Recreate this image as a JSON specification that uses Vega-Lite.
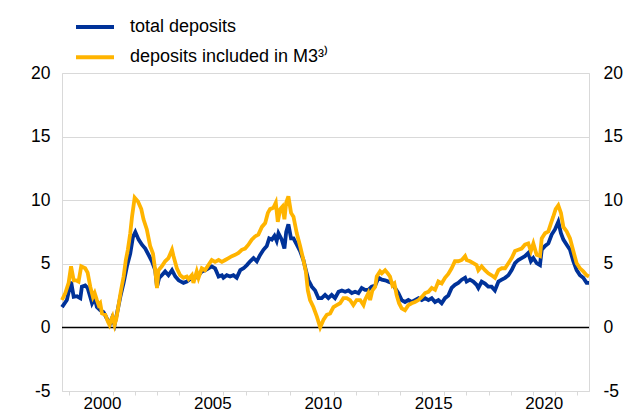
{
  "$schema": "https://vega.github.io/schema/vega-lite/v6.json",
  "width": 527,
  "height": 318,
  "autosize": {"type": "none"},
  "padding": {"left": 62, "top": 73, "right": 40, "bottom": 21},
  "background": "white",
  "config": {
    "font": "Liberation Sans",
    "view": {"stroke": "#d9d9d9", "strokeWidth": 1},
    "axis": {"labelColor": "#000000", "labelFontSize": 17.5, "title": null}
  },
  "datasets": {
    "total": [
      {"t":1998.69,"v":1.6},{"t":1998.91,"v":2.15},{"t":1999.1,"v":3.6},{"t":1999.22,"v":2.4},{"t":1999.37,"v":2.45},{"t":1999.52,"v":2.3},{"t":1999.59,"v":3.2},{"t":1999.74,"v":3.3},{"t":1999.85,"v":3.1},{"t":1999.97,"v":2.4},
      {"t":2000.05,"v":1.9},{"t":2000.17,"v":2.3},{"t":2000.27,"v":1.6},{"t":2000.42,"v":1.35},{"t":2000.57,"v":1.2},{"t":2000.72,"v":0.7},{"t":2000.87,"v":0.3},{"t":2000.95,"v":0.7},{"t":2001.07,"v":0.2},{"t":2001.18,"v":1.1},
      {"t":2001.33,"v":2.4},{"t":2001.48,"v":3.5},{"t":2001.63,"v":4.8},{"t":2001.78,"v":5.8},{"t":2001.9,"v":7.1},{"t":2002.01,"v":7.5},{"t":2002.16,"v":6.9},{"t":2002.31,"v":6.5},{"t":2002.46,"v":6.2},{"t":2002.61,"v":5.7},
      {"t":2002.76,"v":5.2},{"t":2002.91,"v":4.5},{"t":2002.99,"v":3.2},{"t":2003.09,"v":3.9},{"t":2003.21,"v":4.1},{"t":2003.36,"v":4.4},{"t":2003.51,"v":4.1},{"t":2003.67,"v":4.5},{"t":2003.82,"v":4.0},{"t":2003.97,"v":3.7},
      {"t":2004.19,"v":3.5},{"t":2004.34,"v":3.6},{"t":2004.57,"v":3.9},{"t":2004.72,"v":3.9},{"t":2004.87,"v":4.1},{"t":2005.02,"v":4.4},{"t":2005.17,"v":4.5},{"t":2005.32,"v":4.65},{"t":2005.47,"v":4.8},{"t":2005.62,"v":4.65},
      {"t":2005.78,"v":4.0},{"t":2005.93,"v":4.1},{"t":2006.0,"v":3.9},{"t":2006.15,"v":4.1},{"t":2006.3,"v":4.0},{"t":2006.45,"v":4.1},{"t":2006.6,"v":3.9},{"t":2006.76,"v":4.5},{"t":2006.91,"v":4.65},{"t":2007.06,"v":4.9},
      {"t":2007.21,"v":5.2},{"t":2007.36,"v":5.45},{"t":2007.51,"v":5.2},{"t":2007.66,"v":5.7},{"t":2007.81,"v":6.1},{"t":2007.96,"v":6.4},{"t":2008.07,"v":7.0},{"t":2008.19,"v":6.9},{"t":2008.31,"v":7.2},{"t":2008.41,"v":6.8},
      {"t":2008.49,"v":7.4},{"t":2008.64,"v":6.9},{"t":2008.76,"v":6.2},{"t":2008.84,"v":7.5},{"t":2008.94,"v":8.1},{"t":2009.06,"v":7.0},{"t":2009.17,"v":7.0},{"t":2009.32,"v":6.5},{"t":2009.47,"v":6.0},{"t":2009.62,"v":5.3},
      {"t":2009.73,"v":4.5},{"t":2009.85,"v":3.7},{"t":2010.0,"v":3.2},{"t":2010.15,"v":2.9},{"t":2010.3,"v":2.3},{"t":2010.45,"v":2.3},{"t":2010.6,"v":2.55},{"t":2010.75,"v":2.3},{"t":2010.9,"v":2.55},{"t":2011.05,"v":2.3},
      {"t":2011.21,"v":2.8},{"t":2011.36,"v":2.9},{"t":2011.51,"v":2.8},{"t":2011.66,"v":2.9},{"t":2011.81,"v":2.7},{"t":2011.96,"v":2.8},{"t":2012.11,"v":2.7},{"t":2012.26,"v":3.1},{"t":2012.41,"v":2.95},{"t":2012.56,"v":2.95},
      {"t":2012.71,"v":3.2},{"t":2012.87,"v":3.3},{"t":2013.02,"v":3.9},{"t":2013.17,"v":3.75},{"t":2013.32,"v":3.7},{"t":2013.47,"v":3.6},{"t":2013.62,"v":3.5},{"t":2013.77,"v":3.1},{"t":2013.92,"v":2.7},{"t":2014.07,"v":2.15},
      {"t":2014.22,"v":2.0},{"t":2014.37,"v":2.15},{"t":2014.52,"v":2.0},{"t":2014.67,"v":2.15},{"t":2014.83,"v":2.3},{"t":2014.98,"v":2.15},{"t":2015.13,"v":2.3},{"t":2015.28,"v":2.15},{"t":2015.43,"v":2.3},{"t":2015.58,"v":2.0},
      {"t":2015.73,"v":2.15},{"t":2015.88,"v":1.9},{"t":2016.03,"v":2.3},{"t":2016.18,"v":2.5},{"t":2016.33,"v":3.1},{"t":2016.48,"v":3.35},{"t":2016.63,"v":3.5},{"t":2016.79,"v":3.75},{"t":2016.94,"v":3.9},{"t":2017.01,"v":3.6},
      {"t":2017.16,"v":3.75},{"t":2017.31,"v":3.6},{"t":2017.46,"v":3.35},{"t":2017.54,"v":3.1},{"t":2017.69,"v":3.6},{"t":2017.84,"v":3.45},{"t":2017.99,"v":3.2},{"t":2018.14,"v":3.2},{"t":2018.29,"v":2.9},{"t":2018.45,"v":3.6},
      {"t":2018.6,"v":3.75},{"t":2018.75,"v":3.9},{"t":2018.9,"v":4.1},{"t":2019.05,"v":4.5},{"t":2019.2,"v":5.05},{"t":2019.35,"v":5.3},{"t":2019.5,"v":5.45},{"t":2019.65,"v":5.6},{"t":2019.8,"v":5.85},{"t":2019.92,"v":5.2},
      {"t":2020.03,"v":5.45},{"t":2020.18,"v":5.05},{"t":2020.33,"v":4.9},{"t":2020.41,"v":6.1},{"t":2020.56,"v":6.4},{"t":2020.71,"v":6.6},{"t":2020.86,"v":7.3},{"t":2021.01,"v":7.7},{"t":2021.16,"v":8.3},{"t":2021.28,"v":7.4},
      {"t":2021.39,"v":6.9},{"t":2021.54,"v":6.5},{"t":2021.69,"v":6.1},{"t":2021.84,"v":5.2},{"t":2021.99,"v":4.5},{"t":2022.14,"v":4.1},{"t":2022.29,"v":3.9},{"t":2022.44,"v":3.5},{"t":2022.55,"v":3.5}
    ],
    "m3": [
      {"t":1998.69,"v":2.15},{"t":1998.84,"v":2.7},{"t":1998.99,"v":3.5},{"t":1999.1,"v":4.8},{"t":1999.22,"v":3.7},{"t":1999.32,"v":3.7},{"t":1999.44,"v":3.6},{"t":1999.56,"v":4.8},{"t":1999.74,"v":4.65},{"t":1999.85,"v":4.3},
      {"t":1999.97,"v":3.2},{"t":2000.09,"v":2.4},{"t":2000.17,"v":2.7},{"t":2000.27,"v":2.15},{"t":2000.35,"v":1.75},{"t":2000.42,"v":1.9},{"t":2000.5,"v":1.1},{"t":2000.65,"v":1.0},{"t":2000.77,"v":0.45},{"t":2000.84,"v":0.2},
      {"t":2000.92,"v":0.6},{"t":2000.98,"v":0.85},{"t":2001.07,"v":0.2},{"t":2001.15,"v":0.7},{"t":2001.25,"v":1.75},{"t":2001.36,"v":2.9},{"t":2001.48,"v":4.0},{"t":2001.58,"v":5.3},{"t":2001.67,"v":6.1},{"t":2001.78,"v":7.4},
      {"t":2001.86,"v":8.7},{"t":2001.98,"v":10.2},{"t":2002.13,"v":9.9},{"t":2002.28,"v":9.3},{"t":2002.38,"v":8.5},{"t":2002.53,"v":7.7},{"t":2002.68,"v":6.4},{"t":2002.81,"v":5.8},{"t":2002.91,"v":4.5},{"t":2002.99,"v":3.1},
      {"t":2003.06,"v":4.5},{"t":2003.21,"v":4.8},{"t":2003.36,"v":5.2},{"t":2003.51,"v":5.45},{"t":2003.67,"v":6.1},{"t":2003.74,"v":5.6},{"t":2003.89,"v":4.65},{"t":2004.04,"v":4.1},{"t":2004.19,"v":3.9},{"t":2004.34,"v":4.0},
      {"t":2004.42,"v":3.8},{"t":2004.57,"v":4.1},{"t":2004.64,"v":3.5},{"t":2004.79,"v":4.4},{"t":2004.87,"v":3.9},{"t":2005.02,"v":4.65},{"t":2005.17,"v":4.5},{"t":2005.32,"v":4.9},{"t":2005.47,"v":5.3},{"t":2005.62,"v":5.15},
      {"t":2005.78,"v":5.3},{"t":2005.93,"v":5.15},{"t":2006.08,"v":5.3},{"t":2006.23,"v":5.45},{"t":2006.38,"v":5.6},{"t":2006.53,"v":5.7},{"t":2006.68,"v":5.85},{"t":2006.83,"v":6.1},{"t":2006.98,"v":6.2},{"t":2007.13,"v":6.5},
      {"t":2007.28,"v":6.9},{"t":2007.43,"v":7.15},{"t":2007.58,"v":7.3},{"t":2007.74,"v":7.9},{"t":2007.89,"v":8.2},{"t":2008.01,"v":9.0},{"t":2008.11,"v":9.3},{"t":2008.26,"v":9.4},{"t":2008.37,"v":9.8},{"t":2008.46,"v":8.3},
      {"t":2008.57,"v":9.3},{"t":2008.67,"v":9.5},{"t":2008.76,"v":8.5},{"t":2008.84,"v":9.8},{"t":2008.94,"v":10.3},{"t":2009.06,"v":9.0},{"t":2009.17,"v":8.7},{"t":2009.32,"v":7.4},{"t":2009.47,"v":6.4},{"t":2009.62,"v":5.3},
      {"t":2009.73,"v":4.4},{"t":2009.82,"v":2.9},{"t":2009.92,"v":2.15},{"t":2010.07,"v":1.6},{"t":2010.23,"v":0.85},{"t":2010.3,"v":0.45},{"t":2010.38,"v":0.0},{"t":2010.53,"v":0.6},{"t":2010.68,"v":1.0},{"t":2010.83,"v":1.1},
      {"t":2010.98,"v":1.6},{"t":2011.13,"v":1.75},{"t":2011.28,"v":1.9},{"t":2011.43,"v":2.3},{"t":2011.58,"v":2.3},{"t":2011.73,"v":2.15},{"t":2011.88,"v":1.75},{"t":2012.03,"v":2.15},{"t":2012.19,"v":2.15},{"t":2012.34,"v":1.75},
      {"t":2012.41,"v":2.15},{"t":2012.56,"v":2.7},{"t":2012.64,"v":2.15},{"t":2012.74,"v":2.9},{"t":2012.87,"v":3.2},{"t":2012.94,"v":4.0},{"t":2013.09,"v":4.4},{"t":2013.17,"v":4.25},{"t":2013.32,"v":4.5},{"t":2013.44,"v":4.25},
      {"t":2013.54,"v":4.0},{"t":2013.65,"v":3.3},{"t":2013.74,"v":3.45},{"t":2013.84,"v":2.55},{"t":2013.95,"v":1.9},{"t":2014.07,"v":1.5},{"t":2014.22,"v":1.35},{"t":2014.37,"v":1.75},{"t":2014.52,"v":1.9},{"t":2014.67,"v":2.0},
      {"t":2014.83,"v":2.15},{"t":2014.98,"v":2.4},{"t":2015.13,"v":2.7},{"t":2015.28,"v":2.8},{"t":2015.43,"v":3.1},{"t":2015.58,"v":2.95},{"t":2015.73,"v":3.6},{"t":2015.88,"v":3.45},{"t":2016.03,"v":3.9},{"t":2016.18,"v":4.2},
      {"t":2016.33,"v":4.65},{"t":2016.48,"v":5.2},{"t":2016.63,"v":5.2},{"t":2016.79,"v":5.3},{"t":2016.94,"v":5.6},{"t":2017.01,"v":5.3},{"t":2017.16,"v":5.2},{"t":2017.31,"v":5.05},{"t":2017.46,"v":4.9},{"t":2017.54,"v":4.5},
      {"t":2017.69,"v":4.8},{"t":2017.84,"v":4.5},{"t":2017.99,"v":4.25},{"t":2018.14,"v":4.1},{"t":2018.29,"v":3.9},{"t":2018.45,"v":4.5},{"t":2018.6,"v":4.65},{"t":2018.75,"v":4.65},{"t":2018.9,"v":5.05},{"t":2019.05,"v":5.45},
      {"t":2019.2,"v":6.0},{"t":2019.35,"v":6.1},{"t":2019.5,"v":6.2},{"t":2019.65,"v":6.5},{"t":2019.8,"v":6.6},{"t":2019.92,"v":6.0},{"t":2020.03,"v":6.6},{"t":2020.18,"v":5.7},{"t":2020.33,"v":5.6},{"t":2020.41,"v":7.0},
      {"t":2020.56,"v":7.4},{"t":2020.71,"v":7.55},{"t":2020.83,"v":8.2},{"t":2020.93,"v":8.7},{"t":2021.04,"v":9.3},{"t":2021.16,"v":9.6},{"t":2021.28,"v":9.0},{"t":2021.39,"v":7.9},{"t":2021.54,"v":7.55},{"t":2021.69,"v":7.0},
      {"t":2021.84,"v":6.0},{"t":2021.99,"v":5.05},{"t":2022.14,"v":4.65},{"t":2022.29,"v":4.4},{"t":2022.44,"v":4.1},{"t":2022.55,"v":4.0}
    ]
  },
  "layer": [
    {
      "data": {"values": [{"z": 0}]},
      "mark": {"type": "rule", "color": "#000000", "strokeWidth": 1.5},
      "encoding": {
        "y": {
          "field": "z", "type": "quantitative",
          "scale": {"domain": [-5, 20], "nice": false, "zero": false},
          "axis": {"orient": "left", "values": [-5, 0, 5, 10, 15, 20], "labelExpr": "datum.value < 0 ? '-' + abs(datum.value) : '' + datum.value", "ticks": false, "tickSize": 0, "domain": false, "grid": true, "gridColor": "#d9d9d9", "gridWidth": 1, "labelPadding": 12}
        }
      }
    },
    {
      "data": {"name": "total"},
      "mark": {"type": "line", "strokeWidth": 3.8},
      "encoding": {
        "x": {
          "field": "t", "type": "quantitative",
          "scale": {"domain": [1998.69, 2022.55], "nice": false, "zero": false},
          "axis": {"values": [1999,2000,2001,2002,2003,2004,2005,2006,2007,2008,2009,2010,2011,2012,2013,2014,2015,2016,2017,2018,2019,2020,2021,2022], "labelExpr": "datum.value % 5 == 0 ? format(datum.value, 'd') : ''", "labelOffset": 11, "labelOverlap": false, "labelBound": false, "labelFlush": false, "grid": false, "domainColor": "#d9d9d9", "tickColor": "#d9d9d9", "tickSize": 4, "labelPadding": 0, "labelFontSize": 17}
        },
        "y": {
          "field": "v", "type": "quantitative",
          "scale": {"domain": [-5, 20], "nice": false, "zero": false},
          "axis": {"orient": "right", "values": [-5, 0, 5, 10, 15, 20], "labelExpr": "datum.value < 0 ? '-' + abs(datum.value) : '' + datum.value", "ticks": false, "tickSize": 0, "domain": false, "grid": false, "labelPadding": 14}
        },
        "color": {
          "datum": "total deposits", "type": "nominal",
          "scale": {"domain": ["total deposits", "deposits included in M3³⁾"], "range": ["#003299", "#FFB400"]},
          "legend": {"orient": "none", "legendX": 12, "legendY": -67, "direction": "vertical", "title": null, "symbolType": "stroke", "symbolSize": 1444, "symbolStrokeWidth": 4, "labelFontSize": 18, "labelOffset": 14, "labelColor": "#000000", "labelLimit": 0, "rowPadding": 0.3, "padding": 0}
        }
      }
    },
    {
      "data": {"name": "m3"},
      "mark": {"type": "line", "strokeWidth": 3.8},
      "encoding": {
        "x": {
          "field": "t", "type": "quantitative",
          "scale": {"domain": [1998.69, 2022.55], "nice": false, "zero": false},
          "axis": {"values": [1999,2000,2001,2002,2003,2004,2005,2006,2007,2008,2009,2010,2011,2012,2013,2014,2015,2016,2017,2018,2019,2020,2021,2022], "labelExpr": "datum.value % 5 == 0 ? format(datum.value, 'd') : ''", "labelOffset": 11, "labelOverlap": false, "labelBound": false, "labelFlush": false, "grid": false, "domainColor": "#d9d9d9", "tickColor": "#d9d9d9", "tickSize": 4, "labelPadding": 0, "labelFontSize": 17}
        },
        "y": {
          "field": "v", "type": "quantitative",
          "scale": {"domain": [-5, 20], "nice": false, "zero": false},
          "axis": null
        },
        "color": {
          "datum": "deposits included in M3³⁾", "type": "nominal"
        }
      }
    }
  ],
  "resolve": {"axis": {"y": "independent"}}
}
